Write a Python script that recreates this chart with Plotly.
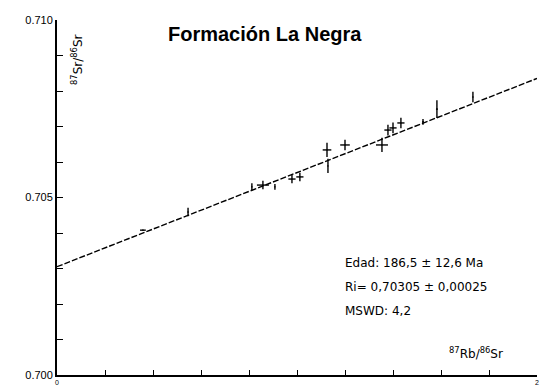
import math
import plotly.graph_objects as go

# Isochron data: 87Rb/86Sr vs 87Sr/86Sr with analytical uncertainties
rb_sr = [0.358, 0.546, 0.812, 0.858, 0.908, 0.979, 1.012, 1.125, 1.129, 1.200,
         1.354, 1.379, 1.400, 1.433, 1.525, 1.583, 1.733]
sr_sr = [0.70408, 0.70459, 0.70530, 0.70535, 0.70530, 0.70552, 0.70558, 0.70634,
         0.70589, 0.70648, 0.70648, 0.70690, 0.70696, 0.70710, 0.70713, 0.70749,
         0.70783]
err_x = [0.012, 0.002, 0.002, 0.025, 0.002, 0.015, 0.015, 0.018, 0.002, 0.020,
         0.025, 0.015, 0.015, 0.015, 0.004, 0.004, 0.002]
err_y = [0.00002, 0.00012, 0.00010, 0.00012, 0.00008, 0.00012, 0.00012, 0.00020,
         0.00020, 0.00015, 0.00020, 0.00015, 0.00015, 0.00015, 0.00008, 0.00025,
         0.00015]

# Isochron parameters
age_ma = 186.5
age_err_ma = 12.6
ri = 0.70305
ri_err = 0.00025
mswd = 4.2
decay_const = 1.42e-11  # 87Rb, per year

slope = math.exp(decay_const * age_ma * 1e6) - 1
line_x = [0.0, 2.0]
line_y = [ri + slope * v for v in line_x]

# Axis ticks: every tick drawn, only a few labelled
y_tick_vals = [0.700 + 0.001 * i for i in range(11)]
y_tick_text = ["0.700", "", "", "", "", "0.705", "", "", "", "", "0.710"]
x_tick_vals = [0.2 * i for i in range(11)]
x_tick_text = ["0"] + [""] * 9 + ["2"]

fig = go.Figure()

fig.add_trace(go.Scatter(
    x=line_x, y=line_y, mode="lines",
    line=dict(color="black", width=1.4, dash="6px,2px"),
    hoverinfo="skip", showlegend=False,
))

fig.add_trace(go.Scatter(
    x=rb_sr, y=sr_sr, mode="markers",
    marker=dict(size=1, color="black"),
    error_x=dict(type="data", array=err_x, visible=True, width=0,
                 thickness=1.4, color="black"),
    error_y=dict(type="data", array=err_y, visible=True, width=0,
                 thickness=1.4, color="black"),
    showlegend=False,
))

font_main = "Liberation Sans, Arial, sans-serif"
font_text = "DejaVu Sans, sans-serif"


def py(pixel_y):
    """Paper y coordinate for a pixel row inside the plot area."""
    return (375 - pixel_y) / 355


fig.update_layout(
    width=540, height=387,
    margin=dict(l=57, r=3, t=20, b=12),
    paper_bgcolor="white", plot_bgcolor="white",
    font=dict(family=font_main, color="black", size=9),
    xaxis=dict(
        range=[0, 2], showgrid=False, zeroline=False, automargin=False,
        showline=True, linecolor="black", linewidth=2,
        tickmode="array", tickvals=x_tick_vals, ticktext=x_tick_text,
        ticks="inside", ticklen=5, tickwidth=1.2, tickcolor="black",
        tickfont=dict(size=7),
    ),
    yaxis=dict(
        range=[0.700, 0.710], showgrid=False, zeroline=False, automargin=False,
        showline=True, linecolor="black", linewidth=2,
        tickmode="array", tickvals=y_tick_vals, ticktext=y_tick_text,
        ticks="inside", ticklen=6, tickwidth=1.4, tickcolor="black",
        tickfont=dict(size=11),
    ),
    annotations=[
        dict(text="<b>Formación La Negra</b>", x=0.433, y=py(34),
             xref="paper", yref="paper", yanchor="middle", showarrow=False,
             font=dict(size=20, family=font_main)),
        dict(text="<sup>87</sup>Sr/<sup>86</sup>Sr", x=0.021, y=0.965,
             xref="paper", yref="paper", showarrow=False, textangle=-90,
             font=dict(size=12, family=font_text)),
        dict(text="<sup>87</sup>Rb/<sup>86</sup>Sr", x=0.8125, y=py(353),
             xref="paper", yref="paper", xanchor="left", yanchor="middle",
             showarrow=False, font=dict(size=12, family=font_text)),
        dict(text=f"Edad: {age_ma:.1f} ± {age_err_ma:.1f} Ma".replace(".", ","),
             x=0.596, y=py(263), xref="paper", yref="paper",
             xanchor="left", yanchor="middle", showarrow=False,
             font=dict(size=12, family=font_text)),
        dict(text=f"Ri= {ri:.5f} ± {ri_err:.5f}".replace(".", ","),
             x=0.596, y=py(287), xref="paper", yref="paper",
             xanchor="left", yanchor="middle", showarrow=False,
             font=dict(size=12, family=font_text)),
        dict(text=f"MSWD: {mswd:.1f}".replace(".", ","),
             x=0.596, y=py(311), xref="paper", yref="paper",
             xanchor="left", yanchor="middle", showarrow=False,
             font=dict(size=12, family=font_text)),
    ],
)

fig.write_html("out.html")
